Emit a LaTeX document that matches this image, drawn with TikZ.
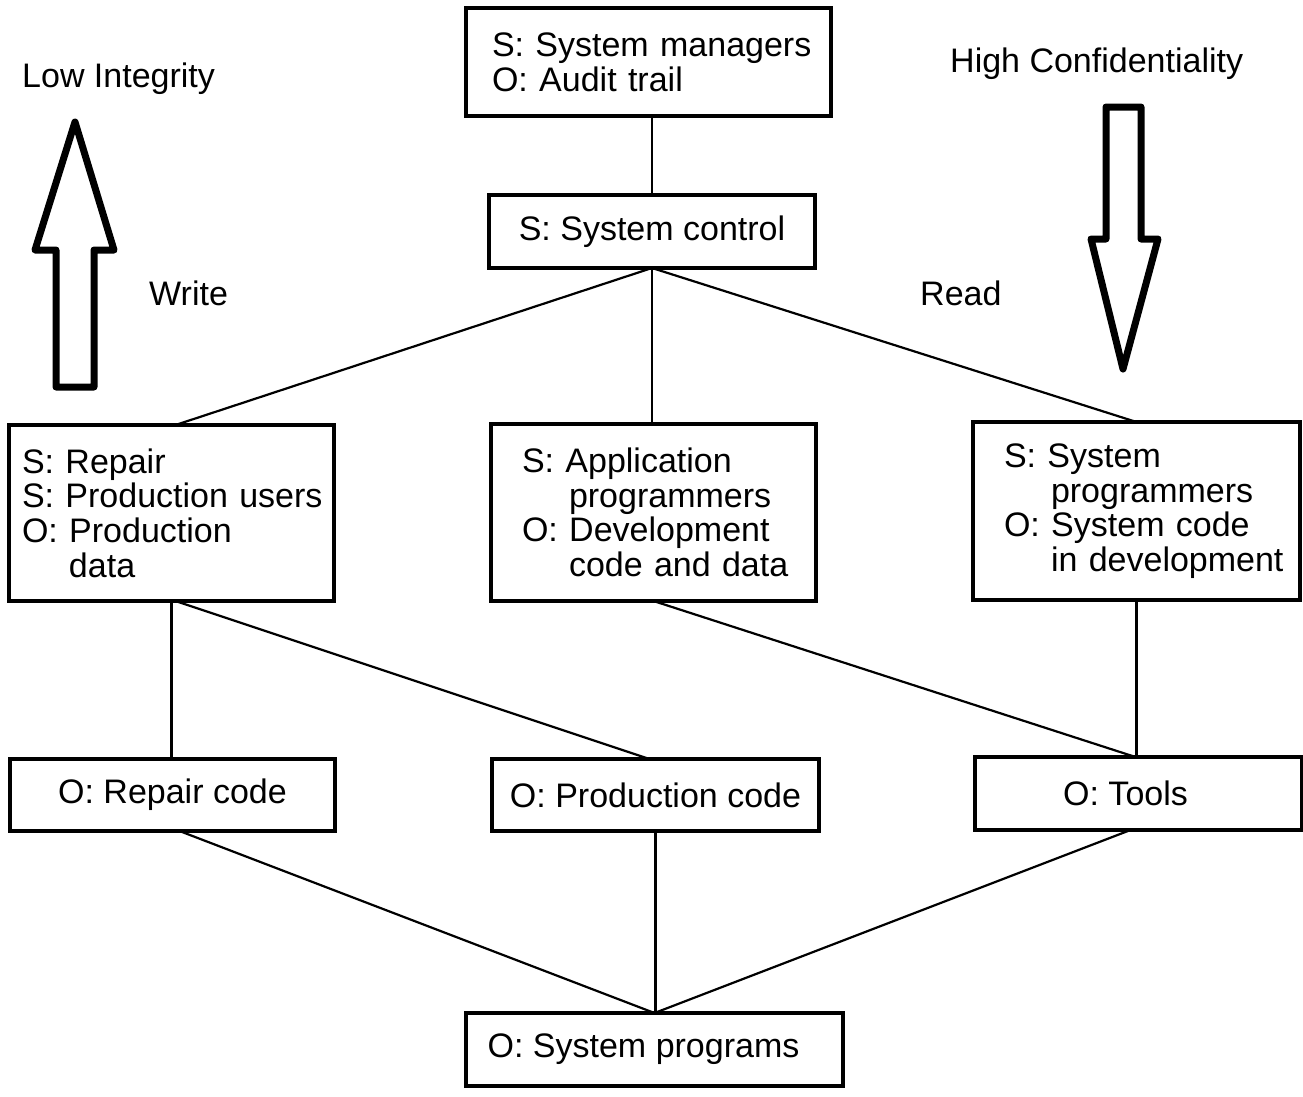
\documentclass[tikz,border=0pt]{standalone}
\usepackage{fontspec}
\setmainfont{Liberation Sans}
\begin{document}
\begin{tikzpicture}[x=1pt,y=-1pt,
  box/.style={draw, line width=4pt, rectangle, inner sep=0pt, outer sep=0pt,
    font=\fontsize{34}{34.6}\selectfont},
  multi/.style={align=left},
  link/.style={line width=2.2pt},
  bigarrow/.style={line width=7pt, line join=round},
  lbl/.style={font=\fontsize{34}{34}\selectfont, inner sep=0pt, anchor=base west}]
\useasboundingbox (0,0) rectangle (1303,1096);
\newcommand{\ind}{\hspace*{47pt}}

% lattice of security levels
\node[box, multi, minimum width=365pt, minimum height=108pt, text width=313pt] (mgr) at (648.5,62)
  {\mbox{S: System managers}\\\mbox{O: Audit trail}};
\node[box, minimum width=326pt, minimum height=73pt] (ctl) at (652,231.5) {S: System control};

\node[box, multi, minimum width=325pt, minimum height=176pt, text width=299pt] (rep) at (171.5,513)
  {\mbox{S: Repair}\\\mbox{S: Production users}\\\mbox{O: Production}\\\mbox{\ind data}};
\node[box, multi, minimum width=325pt, minimum height=177pt, text width=263pt] (app) at (653.5,512.5)
  {\mbox{S: Application}\\\mbox{\ind programmers}\\\mbox{O: Development}\\\mbox{\ind code and data}};
\node[box, multi, minimum width=327pt, minimum height=178pt, text width=265pt] (sys) at (1136.5,511)
  {\mbox{S: System}\\\mbox{\ind programmers}\\\mbox{O: System code}\\\mbox{\ind in development}};

\node[box, minimum width=325pt, minimum height=72pt] (rcode) at (172.5,795) {O: Repair code};
\node[box, minimum width=327pt, minimum height=72pt] (pcode) at (655.5,795) {O: Production code};
\node[box, minimum width=327pt, minimum height=73pt] (tools) at (1138.5,793.5) {O: Tools\kern26pt};
\node[box, minimum width=377pt, minimum height=73pt] (sprog) at (654.5,1049.5) {O: System programs\kern22pt};

% dominance links
\draw[link] (ctl.north) -- (ctl.north |- mgr.south);
\draw[link] (ctl.south) -- ([xshift=4pt]rep.north);
\draw[link] (ctl.south) -- (ctl.south |- app.north);
\draw[link] (ctl.south) -- (sys.north);
\draw[link] (rep.south) -- (rep.south |- rcode.north);
\draw[link] ([xshift=4pt]rep.south) -- ([xshift=-6pt]pcode.north);
\draw[link] (app.south) -- ([xshift=-3pt]tools.north);
\draw[link] (sys.south) -- (sys.south |- tools.north);
\draw[link] ([xshift=7pt]rcode.south) -- (sprog.north);
\draw[link] (pcode.south) -- (pcode.south |- sprog.north);
\draw[link] ([xshift=-8pt]tools.south) -- (sprog.north);

% flow arrows
\draw[bigarrow] (75,122) -- (114,250) -- (94,250) -- (94,387) -- (56,387) -- (56,250) -- (35,250) -- cycle;
\draw[bigarrow] (1123,369) -- (1158,239) -- (1141,239) -- (1141,107) -- (1106,107) -- (1106,239) -- (1091,239) -- cycle;

% labels
\node[lbl] (lowint) at (22,87) {Low Integrity};
\node[lbl] (write) at (149,305) {Write};
\node[lbl] (highconf) at (950,72) {High Confidentiality};
\node[lbl] (read) at (920,305) {Read};
\end{tikzpicture}
\end{document}
